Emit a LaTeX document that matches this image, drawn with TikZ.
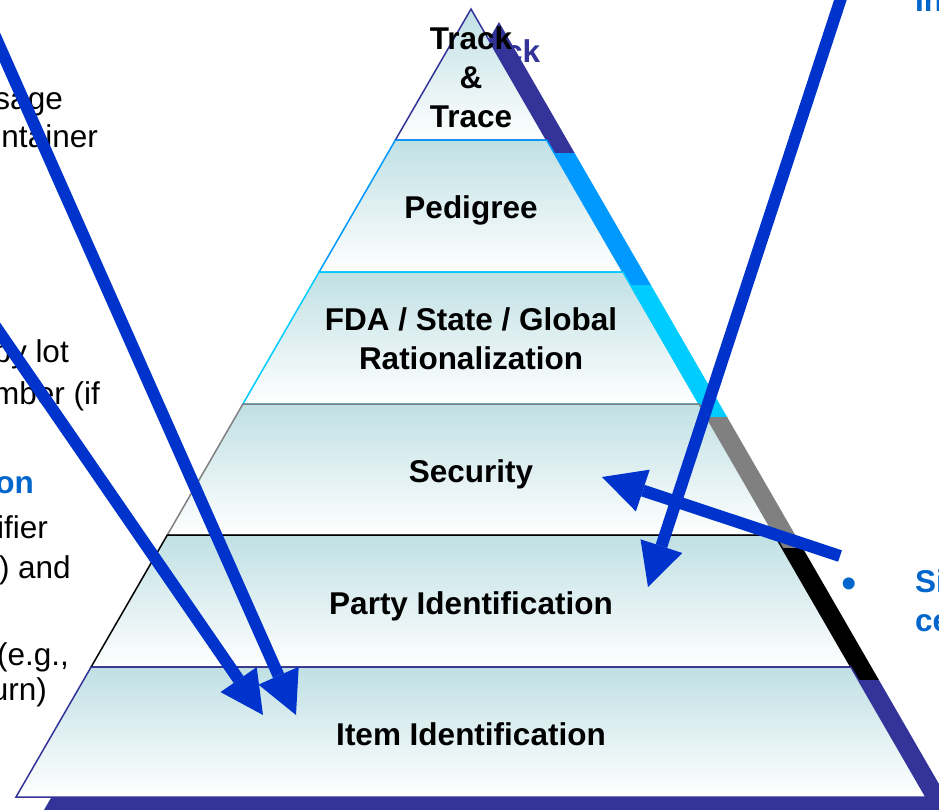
\documentclass[tikz,border=0pt]{standalone}
\usepackage{fontspec}
\setmainfont{Liberation Sans}
\usetikzlibrary{arrows.meta}
\definecolor{navy}{RGB}{51,51,153}
\definecolor{skyblue}{RGB}{0,153,255}
\definecolor{cyanish}{RGB}{0,204,255}
\definecolor{midgray}{RGB}{128,128,128}
\definecolor{arrowblue}{RGB}{0,51,204}
\definecolor{textblue}{RGB}{0,102,204}
\definecolor{tealtop}{RGB}{192,224,228}
\begin{document}
\begin{tikzpicture}[x=1pt,y=-1pt,
  layer/.style={line width=1.5pt, top color=tealtop, bottom color=white},
  lbl/.style={font=\fontsize{31.5}{39}\selectfont\bfseries, align=center, inner sep=0pt},
  bodytext/.style={font=\fontsize{31.5}{37}\selectfont, inner sep=0pt, anchor=base east},
  bluetext/.style={font=\fontsize{31.5}{39}\selectfont\bfseries, text=textblue, inner sep=0pt},
  bigarrow/.style={draw=arrowblue, line width=12pt, -{Triangle[length=43pt,width=44pt,line width=0pt]}}]
\useasboundingbox (0,0) rectangle (939,809);
\clip (0,0) rectangle (939,809);
% shadows
\begin{scope}[shift={(28,13)}]
  \fill[navy] (471,9) -- (546.6,140) -- (395.4,140) -- cycle;
  \fill[skyblue] (395.4,140) -- (546.6,140) -- (622.9,272) -- (319.1,272) -- cycle;
  \fill[cyanish] (319.1,272) -- (622.9,272) -- (699.1,404) -- (242.9,404) -- cycle;
  \fill[midgray] (242.9,404) -- (699.1,404) -- (774.7,535) -- (167.3,535) -- cycle;
  \fill[black] (167.3,535) -- (774.7,535) -- (850.9,667) -- (91.1,667) -- cycle;
  \fill[navy] (91.1,667) -- (850.9,667) -- (926,797) -- (16,797) -- cycle;
  \node[lbl, text=navy] (trackshadow) at (471,77) {Track\\\&\\Trace};
\end{scope}
% layers
\path[layer, draw=navy] (471,9) -- (546.6,140) -- (395.4,140) -- cycle;
\path[layer, draw=skyblue] (395.4,140) -- (546.6,140) -- (622.9,272) -- (319.1,272) -- cycle;
\path[layer, draw=cyanish] (319.1,272) -- (622.9,272) -- (699.1,404) -- (242.9,404) -- cycle;
\path[layer, draw=midgray] (242.9,404) -- (699.1,404) -- (774.7,535) -- (167.3,535) -- cycle;
\path[layer, draw=black] (167.3,535) -- (774.7,535) -- (850.9,667) -- (91.1,667) -- cycle;
\path[layer, draw=navy] (91.1,667) -- (850.9,667) -- (926,797) -- (16,797) -- cycle;
% layer labels
\node[lbl] (track) at (471,77) {Track\\\&\\Trace};
\node[lbl, anchor=base] (pedigree) at (471,218) {Pedigree};
\node[lbl] (fda) at (471,339) {FDA / State / Global\\Rationalization};
\node[lbl, anchor=base] (security) at (471,482) {Security};
\node[lbl, anchor=base] (party) at (471,614) {Party Identification};
\node[lbl, anchor=base] (item) at (471,745) {Item Identification};
% left text fragments
\node[bodytext] (l1) at (63,109) {sage};
\node[bodytext] (l2) at (98,147) {ntainer};
\node[bodytext] (l3) at (69,362) {by lot};
\node[bodytext] (l4) at (100,404) {mber (if};
\node[bluetext, anchor=base east] (l5) at (34,493) {on};
\node[bodytext] (l6) at (48,538) {ifier};
\node[bodytext] (l7) at (71,578) {) and};
\node[bodytext] (l8) at (69,665) {(e.g.,};
\node[bodytext] (l9) at (47,700) {urn)};
% right text fragments
\node[bluetext, anchor=base west] (r1) at (915,11) {In};
\node[font=\fontsize{44}{44}\selectfont, text=textblue, inner sep=0pt, anchor=base west] (bullet) at (841,598) {•};
\node[bluetext, anchor=base west] (r2) at (915,592) {Si};
\node[bluetext, anchor=base west] (r3) at (915,631) {ce};
% arrows
\coordinate (aS) at (-21,0);
\coordinate (aE) at (296,715);
\coordinate (bS) at (-40,275);
\coordinate (bE) at (263,715);
\coordinate (cS) at (842,-5);
\coordinate (cE) at (648,587);
\coordinate (dS) at (840,556);
\coordinate (dE) at (602,477);
\draw[bigarrow] (aS) -- (aE);
\draw[bigarrow] (bS) -- (bE);
\draw[bigarrow] (cS) -- (cE);
\draw[bigarrow] (dS) -- (dE);
\end{tikzpicture}
\end{document}
